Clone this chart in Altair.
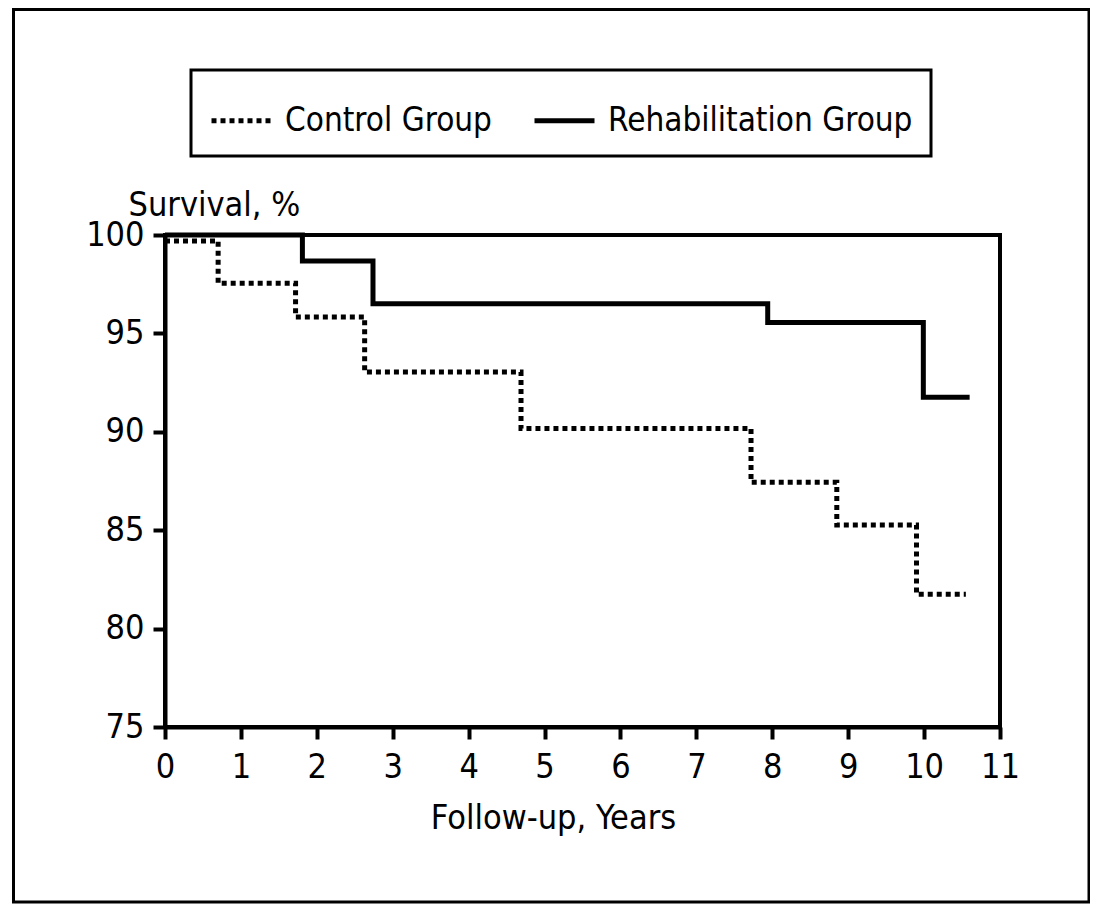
import altair as alt
import pandas as pd

# Kaplan-Meier step data
control_years = [0, 0.70, 1.72, 2.63, 4.69, 7.72, 8.85, 9.90, 10.55]
control_surv = [99.7, 97.55, 95.83, 93.04, 90.17, 87.44, 85.26, 81.75, 81.75]
rehab_years = [0, 1.81, 2.74, 7.94, 9.99, 10.60]
rehab_surv = [100, 98.68, 96.51, 95.55, 91.76, 91.76]

groups = ["Control Group", "Rehabilitation Group"]
x_ticks = list(range(0, 12))
y_ticks = [75, 80, 85, 90, 95, 100]

FONT = "Liberation Sans Narrow, DejaVu Sans Condensed, sans-serif"
FS = 34

rows = []
for t, s in zip(control_years, control_surv):
    rows.append({"group": groups[0], "years": t, "surv": s})
for t, s in zip(rehab_years, rehab_surv):
    rows.append({"group": groups[1], "years": t, "surv": s})
df = pd.DataFrame(rows)

lines = alt.Chart(df).mark_line(
    interpolate="step-after", color="black", strokeWidth=5, strokeCap="butt"
).encode(
    x=alt.X("years:Q",
            scale=alt.Scale(domain=[0, 11], nice=False, zero=False),
            axis=alt.Axis(values=x_ticks, title="Follow-up, Years",
                          titleX=388, titleY=101, titleAlign="center",
                          titleBaseline="alphabetic", labelPadding=11,
                          labelFlush=False)),
    y=alt.Y("surv:Q",
            scale=alt.Scale(domain=[75, 100], nice=False, zero=False),
            axis=alt.Axis(values=y_ticks, title="Survival, %", titleAngle=0,
                          titleX=-37, titleY=-20, titleAlign="left",
                          titleBaseline="alphabetic", labelPadding=9)),
    strokeDash=alt.StrokeDash(
        "group:N",
        scale=alt.Scale(domain=groups, range=[[5, 4], [1, 0]]),
        legend=alt.Legend(
            title=None, orient="none", legendX=26, legendY=-165,
            direction="horizontal", strokeColor="black", padding=18,
            symbolType="stroke", symbolSize=3600, symbolStrokeWidth=5,
            symbolStrokeColor="black", labelFont=FONT, labelFontSize=33,
            labelColor="black", labelOffset=11, columnPadding=32,
            labelLimit=0,
        ),
    ),
    detail="group:N",
)

frame = alt.Chart(alt.Data(values=[{"a": 1}])).mark_rect(
    fill=None, fillOpacity=0, stroke="black", strokeWidth=3
).encode(
    x=alt.value(-151.5), x2=alt.value(924),
    y=alt.value(-225.5), y2=alt.value(667),
)

chart = alt.layer(frame, lines).properties(
    width=835, height=492,
    autosize=alt.AutoSizeParams(type="none"),
    padding={"left": 157, "top": 227, "right": 90, "bottom": 178},
).configure_view(
    stroke="black", strokeWidth=4
).configure_axis(
    grid=False, domainColor="black", domainWidth=4, tickColor="black",
    tickWidth=4, tickSize=12, labelFont=FONT, labelFontSize=FS,
    labelColor="black", titleFont=FONT, titleFontSize=FS,
    titleFontWeight="normal", titleColor="black",
).configure_legend(
    strokeWidth=3
)

chart.save("out.html", embed_options={"renderer": "svg", "actions": False})
